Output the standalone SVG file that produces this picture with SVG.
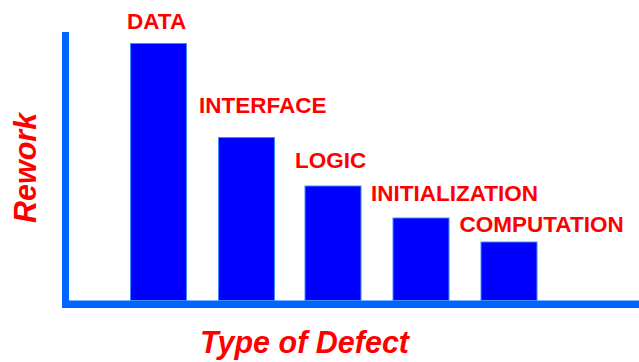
<svg xmlns="http://www.w3.org/2000/svg" width="639" height="362" viewBox="0 0 639 362">
  <style>
    .bar { fill: #0000FF; stroke: #3F8CFF; stroke-width: 1; }
    .axis { fill: #0066FF; }
    .cat { font-family: "Liberation Sans", Arial, sans-serif; font-weight: bold; font-size: 22.5px; fill: #FF0000; }
    .title { font-family: "Liberation Sans", Arial, sans-serif; font-weight: bold; font-style: italic; font-size: 30.5px; fill: #FF0000; }
  </style>
  <rect width="639" height="362" fill="#FFFFFF"/>

  <!-- axes -->
  <g id="axes">
    <rect class="axis" x="62" y="32" width="7" height="276"/>
    <rect class="axis" x="62" y="300.5" width="577" height="7.5"/>
  </g>

  <!-- bars, tallest to shortest -->
  <g id="data">
    <rect class="bar" x="130.5" y="43.5" width="56" height="257"/>
    <text class="cat" x="127" y="29">DATA</text>
  </g>
  <g id="interface">
    <rect class="bar" x="218.5" y="137.5" width="56" height="163"/>
    <text class="cat" x="199" y="113">INTERFACE</text>
  </g>
  <g id="logic">
    <rect class="bar" x="305" y="186" width="56" height="114.5"/>
    <text class="cat" x="295" y="167.5">LOGIC</text>
  </g>
  <g id="initialization">
    <rect class="bar" x="393" y="218" width="56" height="82.5"/>
    <text class="cat" x="371" y="201">INITIALIZATION</text>
  </g>
  <g id="computation">
    <rect class="bar" x="481" y="242" width="56" height="58.5"/>
    <text class="cat" x="459.5" y="232">COMPUTATION</text>
  </g>

  <!-- axis titles -->
  <g id="labels">
    <text class="title" transform="translate(36 223) rotate(-90)">Rework</text>
    <text class="title" x="200" y="353">Type of Defect</text>
  </g>
</svg>
